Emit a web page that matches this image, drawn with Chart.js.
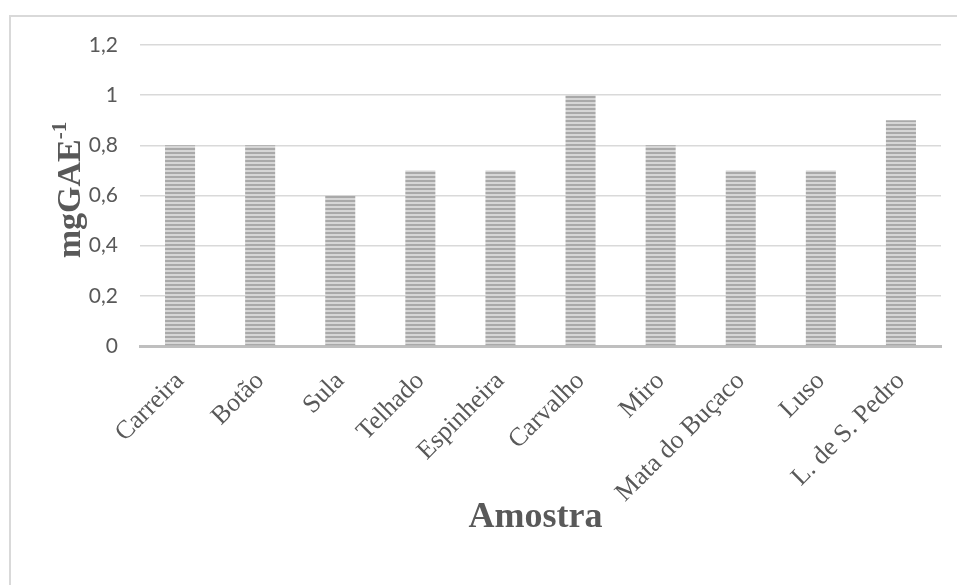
<!DOCTYPE html>
<html>
<head>
<meta charset="utf-8">
<script src="https://cdn.jsdelivr.net/npm/chart.js@4"></script>
<style>
  html, body { margin: 0; padding: 0; background: #ffffff; }
  #wrap { width: 957px; height: 585px; position: relative; }
</style>
</head>
<body>
<div id="wrap"><canvas id="c" width="957" height="585"></canvas></div>
<script>
// Sample sites and their phenolic content
const categories = ['Carreira', 'Botão', 'Sula', 'Telhado', 'Espinheira', 'Carvalho', 'Miro', 'Mata do Buçaco', 'Luso', 'L. de S. Pedro'];
const values = [0.8, 0.8, 0.6, 0.7, 0.7, 1.0, 0.8, 0.7, 0.7, 0.9];
const yTicks = [0, 0.2, 0.4, 0.6, 0.8, 1, 1.2];
const xTitle = 'Amostra';
const yTitle = 'mgGAE';
const yTitleSup = '-1';

// Horizontal-stripe fill for the bars
function stripes() {
  const p = document.createElement('canvas');
  p.width = 4; p.height = 4;
  const g = p.getContext('2d');
  g.fillStyle = '#d6d6d6'; g.fillRect(0, 0, 4, 4);
  g.fillStyle = '#a9a9a9'; g.fillRect(0, 0, 4, 2);
  return g.createPattern(p, 'repeat');
}

const serif = '"Liberation Serif", "Times New Roman", serif';

const decor = {
  id: 'decor',
  beforeDraw(chart) {
    const ctx = chart.ctx;
    ctx.save();
    ctx.strokeStyle = '#d9d9d9';
    ctx.lineWidth = 2;
    ctx.beginPath();
    ctx.moveTo(10, 585);
    ctx.lineTo(10, 16);
    ctx.lineTo(957, 16);
    ctx.stroke();
    ctx.restore();
  },
  afterDraw(chart) {
    const ctx = chart.ctx;
    const area = chart.chartArea;
    ctx.save();
    ctx.fillStyle = '#595959';
    // x-axis title
    ctx.font = 'bold 36px ' + serif;
    ctx.textAlign = 'center';
    ctx.textBaseline = 'middle';
    ctx.fillText(xTitle, (area.left + area.right) / 2 - 5, 518);
    // y-axis title with superscript
    ctx.translate(68, 190);
    ctx.rotate(-Math.PI / 2);
    ctx.font = 'bold 34px ' + serif;
    const w1 = ctx.measureText(yTitle).width;
    ctx.font = 'bold 21px ' + serif;
    const w2 = ctx.measureText(yTitleSup).width;
    const start = -(w1 + w2) / 2;
    ctx.textAlign = 'left';
    ctx.textBaseline = 'alphabetic';
    ctx.font = 'bold 34px ' + serif;
    ctx.fillText(yTitle, start, 12);
    ctx.font = 'bold 21px ' + serif;
    ctx.fillText(yTitleSup, start + w1, -2);
    ctx.restore();
  }
};

new Chart(document.getElementById('c'), {
  type: 'bar',
  data: {
    labels: categories,
    datasets: [{
      data: values,
      backgroundColor: stripes(),
      borderWidth: 0,
      categoryPercentage: 1,
      barPercentage: 0.375
    }]
  },
  options: {
    responsive: false,
    animation: false,
    layout: { padding: { left: 0, right: 16, top: 45, bottom: 0 } },
    plugins: { legend: { display: false }, tooltip: { enabled: false } },
    scales: {
      x: {
        grid: { display: false, drawTicks: false },
        border: { display: true, color: '#bfbfbf', width: 3 },
        ticks: {
          color: '#595959',
          font: { family: serif, size: 26 },
          minRotation: 45,
          maxRotation: 45,
          padding: 20
        },
        afterFit(scale) { scale.height = 239; }
      },
      y: {
        min: 0,
        max: 1.2,
        afterBuildTicks(scale) { scale.ticks = yTicks.map(v => ({ value: v })); },
        grid: { color: '#d9d9d9', lineWidth: 1.5, drawTicks: false },
        border: { display: false },
        ticks: {
          color: '#595959',
          font: { family: 'Lato, "Open Sans", sans-serif', size: 21 },
          padding: 22,
          callback: v => String(v).replace('.', ',')
        },
        afterFit(scale) { scale.width = 140; }
      }
    }
  },
  plugins: [decor]
});
</script>
</body>
</html>
